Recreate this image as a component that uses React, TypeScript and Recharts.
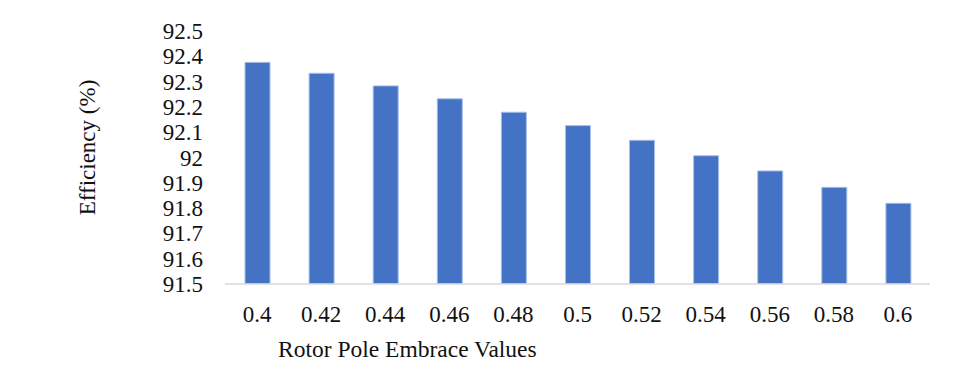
import React from 'react';
import { BarChart, Bar, XAxis, YAxis, Label } from 'recharts';

// Rotor pole embrace values (category axis)
const poleEmbrace = ['0.4', '0.42', '0.44', '0.46', '0.48', '0.5', '0.52', '0.54', '0.56', '0.58', '0.6'];
// Machine efficiency in percent for each embrace value
const efficiency = [92.376, 92.333, 92.283, 92.232, 92.179, 92.126, 92.068, 92.007, 91.947, 91.882, 91.819];
// Value axis ticks
const efficiencyTicks = [91.5, 91.6, 91.7, 91.8, 91.9, 92, 92.1, 92.2, 92.3, 92.4, 92.5];

const data = poleEmbrace.map((embrace, i) => ({ embrace, efficiency: efficiency[i] }));

const FONT = '"Liberation Serif", "Times New Roman", Times, serif';
const TEXT_COLOR = '#111';

const XTick = (props: any) => {
  const { x, y, payload } = props;
  return (
    <text x={x} y={y + 16} textAnchor="middle" fontSize={23} fontFamily={FONT} fill={TEXT_COLOR}>
      {payload.value}
    </text>
  );
};

const YTick = (props: any) => {
  const { x, y, payload } = props;
  return (
    <text x={x} y={y + 8} textAnchor="end" fontSize={23} fontFamily={FONT} fill={TEXT_COLOR}>
      {String(payload.value)}
    </text>
  );
};

const YTitle = (props: any) => {
  const vb = props.viewBox || {};
  const x = vb.x + 95;
  const y = vb.y + vb.height / 2 - 10;
  return (
    <text
      x={x}
      y={y}
      transform={`rotate(-90, ${x}, ${y})`}
      textAnchor="middle"
      fontSize={23}
      fontFamily={FONT}
      fill={TEXT_COLOR}
    >
      Efficiency (%)
    </text>
  );
};

const XTitle = (props: any) => {
  const vb = props.viewBox || {};
  return (
    <text x={vb.x + 53} y={vb.y + 72.5} textAnchor="start" fontSize={23.5} fontFamily={FONT} fill={TEXT_COLOR}>
      Rotor Pole Embrace Values
    </text>
  );
};

export default function App() {
  return (
    <div style={{ position: 'relative', width: 957, height: 379, margin: -8, background: '#fff' }}>
      {/* light chart-area frame */}
      <svg
        width={957}
        height={379}
        style={{ position: 'absolute', left: 0, top: 0 }}
      >
        <rect x={7} y={6} width={1000} height={400} fill="#fff" stroke="#d4d4d4" strokeWidth={2} />
      </svg>
      <div style={{ position: 'absolute', left: 0, top: 0 }}>
        <BarChart
          width={957}
          height={379}
          data={data}
          margin={{ top: 31, right: 27, bottom: 65, left: 0 }}
          style={{ fontFamily: FONT }}
        >
          <XAxis
            dataKey="embrace"
            height={30}
            tickLine={false}
            tickSize={0}
            tickMargin={22}
            axisLine={{ stroke: '#d9d9d9', strokeWidth: 1.5 }}
            tick={<XTick />}
            interval={0}
          >
            <Label content={<XTitle />} />
          </XAxis>
          <YAxis
            width={225}
            domain={[91.5, 92.5]}
            ticks={efficiencyTicks}
            interval={0}
            allowDataOverflow
            tickLine={false}
            tickSize={0}
            tickMargin={22}
            axisLine={false}
            tick={<YTick />}
          >
            <Label content={<YTitle />} />
          </YAxis>
          <Bar
            dataKey="efficiency"
            fill="#4472C4"
            stroke="#a9bfe6"
            strokeWidth={1}
            barSize={25}
            isAnimationActive={false}
          />
        </BarChart>
      </div>
    </div>
  );
}
